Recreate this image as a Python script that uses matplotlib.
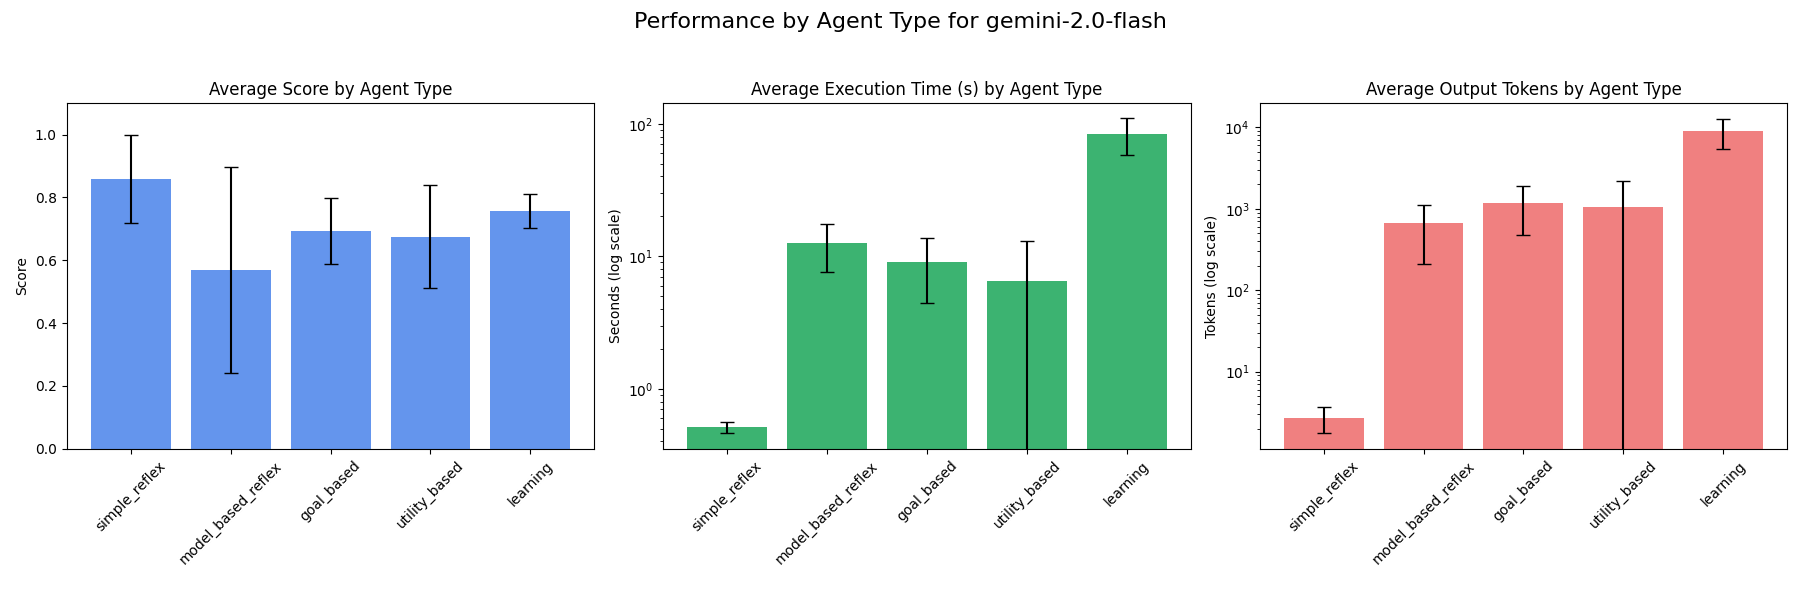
import matplotlib
matplotlib.use("Agg")
import matplotlib.pyplot as plt
import numpy as np

agent_types = ["simple_reflex", "model_based_reflex", "goal_based", "utility_based", "learning"]

score_mean = [0.859, 0.569, 0.693, 0.675, 0.757]
score_std = [0.140, 0.329, 0.105, 0.164, 0.055]

time_mean = [0.511, 12.6, 9.1, 6.45, 84.0]
time_std = [0.045, 5.0, 4.7, 6.65, 26.0]

tokens_mean = [2.7, 660, 1195, 1040, 9100]
tokens_std = [0.95, 450, 720, 1165, 3700]

fig, axes = plt.subplots(1, 3, figsize=(18, 6), dpi=100)
fig.suptitle("Performance by Agent Type for gemini-2.0-flash", fontsize=16)

x = np.arange(len(agent_types))

ax = axes[0]
ax.bar(x, score_mean, yerr=score_std, color="cornflowerblue", capsize=5, ecolor="black")
ax.set_title("Average Score by Agent Type")
ax.set_ylabel("Score")
ax.set_ylim(0, 1.1)

ax = axes[1]
ax.bar(x, time_mean, yerr=time_std, color="mediumseagreen", capsize=5, ecolor="black")
ax.set_yscale("log")
ax.set_title("Average Execution Time (s) by Agent Type")
ax.set_ylabel("Seconds (log scale)")
ax.set_ylim(0.352, 143)

ax = axes[2]
ax.bar(x, tokens_mean, yerr=tokens_std, color="lightcoral", capsize=5, ecolor="black")
ax.set_yscale("log")
ax.set_title("Average Output Tokens by Agent Type")
ax.set_ylabel("Tokens (log scale)")
ax.set_ylim(1.13, 19800)

for ax in axes:
    ax.set_xticks(x)
    ax.set_xticklabels(agent_types, rotation=45)

fig.subplots_adjust(left=0.037, right=0.993, bottom=0.252, top=0.828, wspace=0.13)
fig.savefig("out.png", dpi=100)
